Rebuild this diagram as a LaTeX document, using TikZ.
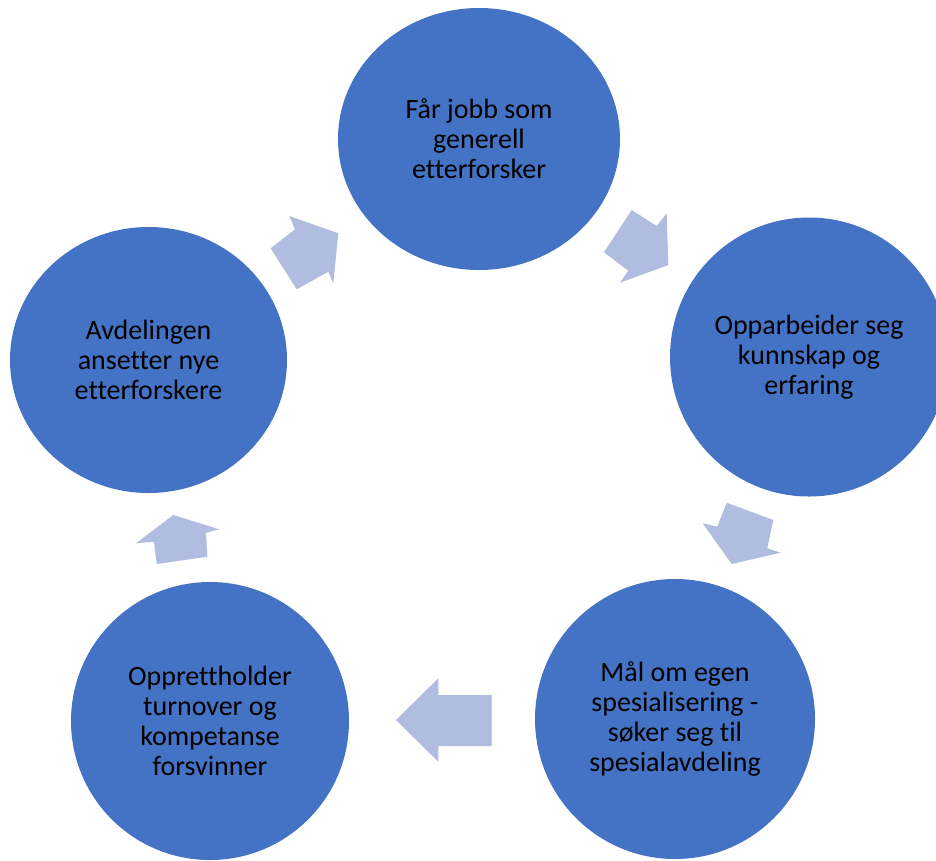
\documentclass[tikz,border=0pt]{standalone}
\usepackage{fontspec}
\setmainfont{Carlito}[Ligatures=NoCommon]
\usetikzlibrary{shapes.geometric}
\definecolor{circblue}{RGB}{68,114,196}
\definecolor{arrowblue}{RGB}{176,188,224}
\tikzset{
  stage/.style={ellipse, fill=circblue, draw=none, inner sep=0pt, align=center,
    text=black, font=\fontsize{28}{30}\selectfont},
  blockarrow/.style={fill=arrowblue, draw=none}
}
\begin{document}
\begin{tikzpicture}[x=1pt, y=-1pt]
\useasboundingbox (0,0) rectangle (936,860);
\fill[white] (0,0) rectangle (936,860);
\clip (0,0) rectangle (936,860);

\node[stage, minimum width=282pt, minimum height=262pt] (c1) at (479,139)
  {Får jobb som\\generell\\etterforsker};
\node[stage, minimum width=278pt, minimum height=279pt] (c2) at (809,357)
  {Opparbeider seg\\kunnskap og\\erfaring};
\node[stage, minimum width=280pt, minimum height=280pt] (c3) at (675,719)
  {Mål om egen\\spesialisering -\\søker seg til\\spesialavdeling};
\node[stage, minimum width=278pt, minimum height=278pt] (c4) at (210,721)
  {Opprettholder\\turnover og\\kompetanse\\forsvinner};
\node[stage, minimum width=277pt, minimum height=266pt] (c5) at (148.5,360)
  {Avdelingen\\ansetter nye\\etterforskere};

% block arrows
\fill[blockarrow] (289.3,216) -- (338.3,233.3) -- (333.3,283.3) -- (328.3,271.7)
  -- (296.7,289.3) -- (270.7,248.3) -- (295,229.3) -- cycle;
\fill[blockarrow] (631.7,210) -- (656.7,226) -- (666.7,213.3) -- (668.3,265)
  -- (620,282.7) -- (628.3,270.7) -- (604,252.3) -- cycle;
\fill[blockarrow] (726.7,502.7) -- (773.3,520) -- (767.3,548.3) -- (780.7,552.7)
  -- (731.7,564) -- (702.7,523.3) -- (717.3,526.7) -- cycle;
\fill[blockarrow] (491.7,695) -- (491.7,746) -- (438.3,746) -- (438.3,761.7)
  -- (396,720) -- (438.3,678.3) -- (438.3,695) -- cycle;
\fill[blockarrow] (173.3,515) -- (219.3,529.3) -- (206,532.7) -- (207.3,556.7)
  -- (156.7,564) -- (154,541.7) -- (136,543.3) -- cycle;
\end{tikzpicture}
\end{document}
